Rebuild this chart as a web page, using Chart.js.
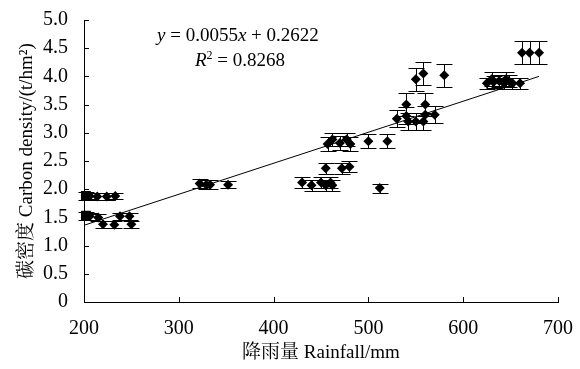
<!DOCTYPE html>
<html>
<head>
<meta charset="utf-8">
<script src="https://cdn.jsdelivr.net/npm/chart.js@4.4.1/dist/chart.umd.min.js"></script>
<style>
  html, body { margin: 0; padding: 0; background: #fff; }
  #wrap { position: relative; width: 580px; height: 369px; }
  #eq { position: absolute; left: 0; top: 0; font-family: 'Liberation Serif', serif; font-size: 19px; color: #000; line-height: 1; white-space: nowrap; }
  #eq div { position: absolute; }
  #eq sup { font-size: 12px; vertical-align: 7px; line-height: 0; }
</style>
</head>
<body>
<div id="wrap">
  <canvas id="c" width="580" height="369"></canvas>
  <div id="eq">
    <div id="eq1" style="left:157px; top:25px;"><i>y</i> = 0.0055<i>x</i> + 0.2622</div>
    <div id="eq2" style="left:195px; top:50px;"><i>R</i><sup>2</sup> = 0.8268</div>
  </div>
</div>
<script>
// ---- data ----
const squareX   = [202, 202];
const squareY   = [1.88, 1.53];
const squareErr = [0.07, 0.07];

const rainfall = [206, 214, 224, 233,
                  206, 215, 238, 248,
                  220, 232, 250,
                  322, 329, 333, 352,
                  430, 440, 450, 455, 460, 462,
                  455, 472, 480,
                  457, 462, 470, 477, 481,
                  500, 520, 512,
                  530, 540, 540, 542, 550, 558, 560, 560, 570,
                  550, 558, 580,
                  625, 632, 638, 643, 648, 652, 660,
                  630, 645,
                  662, 670, 680];
const carbon   = [1.88, 1.87, 1.87, 1.88,
                  1.52, 1.50, 1.52, 1.52,
                  1.38, 1.37, 1.38,
                  2.10, 2.08, 2.08, 2.08,
                  2.12, 2.07, 2.12, 2.07, 2.12, 2.07,
                  2.37, 2.37, 2.40,
                  2.80, 2.88, 2.82, 2.88, 2.80,
                  2.85, 2.85, 2.02,
                  3.25, 3.50, 3.30, 3.20, 3.20, 3.20, 3.50, 3.32, 3.32,
                  3.95, 4.05, 4.02,
                  3.88, 3.90, 3.92, 3.88, 3.92, 3.88, 3.88,
                  3.95, 3.95,
                  4.42, 4.42, 4.42];
const carbonErr = [0.06, 0.06, 0.06, 0.06,
                   0.06, 0.06, 0.06, 0.06,
                   0.06, 0.06, 0.06,
                   0.08, 0.08, 0.08, 0.06,
                   0.10, 0.10, 0.10, 0.10, 0.10, 0.10,
                   0.10, 0.10, 0.10,
                   0.12, 0.12, 0.12, 0.12, 0.12,
                   0.12, 0.12, 0.08,
                   0.15, 0.20, 0.15, 0.15, 0.15, 0.15, 0.20, 0.15, 0.15,
                   0.20, 0.20, 0.20,
                   0.10, 0.10, 0.10, 0.10, 0.10, 0.10, 0.10,
                   0.12, 0.12,
                   0.20, 0.20, 0.20];

const trendX = [200, 680];
const trendY = [1.36, 4.00];

const xTicks = [200, 300, 400, 500, 600, 700];
const yTicks = [0, 0.5, 1.0, 1.5, 2.0, 2.5, 3.0, 3.5, 4.0, 4.5, 5.0];

const FONT = "'Liberation Serif', 'Noto Serif CJK SC', 'Noto Sans CJK SC', serif";

function pts(xs, ys) { return xs.map((x, i) => ({ x: x, y: ys[i] })); }

// error bars + inside tick marks, drawn through the chart's own scales
const errPlugin = {
  id: 'errbars',
  beforeDatasetsDraw(chart) {
    const ctx = chart.ctx, xs = chart.scales.x, ys = chart.scales.y;
    ctx.save();
    ctx.strokeStyle = '#000';
    ctx.lineWidth = 1;
    chart.data.datasets.forEach(ds => {
      if (!ds.errs) return;
      ds.data.forEach((p, i) => {
        const e = ds.errs[i];
        const px = Math.round(xs.getPixelForValue(p.x)) + 0.5;
        const y1 = Math.round(ys.getPixelForValue(p.y + e)) + 0.5;
        const y2 = Math.round(ys.getPixelForValue(p.y - e)) + 0.5;
        ctx.beginPath();
        ctx.moveTo(px, y1); ctx.lineTo(px, y2);
        ctx.moveTo(px - 8, y1); ctx.lineTo(px + 8, y1);
        ctx.moveTo(px - 8, y2); ctx.lineTo(px + 8, y2);
        ctx.stroke();
      });
    });
    ctx.restore();
  },
  afterDraw(chart) {
    const ctx = chart.ctx, xs = chart.scales.x, ys = chart.scales.y;
    const a = chart.chartArea;
    ctx.save();
    ctx.strokeStyle = '#000';
    ctx.lineWidth = 1;
    ctx.beginPath();
    xTicks.forEach(v => {
      const px = Math.round(xs.getPixelForValue(v)) + 0.5;
      ctx.moveTo(px, a.bottom); ctx.lineTo(px, a.bottom - 5);
    });
    yTicks.forEach(v => {
      const py = Math.round(ys.getPixelForValue(v)) + 0.5;
      ctx.moveTo(a.left, py); ctx.lineTo(a.left + 5, py);
    });
    ctx.stroke();
    ctx.restore();
  }
};

new Chart(document.getElementById('c'), {
  type: 'scatter',
  data: {
    datasets: [
      {
        type: 'line',
        data: pts(trendX, trendY),
        borderColor: '#000',
        borderWidth: 1,
        pointRadius: 0,
        fill: false,
        order: 0
      },
      {
        data: pts(rainfall, carbon),
        errs: carbonErr,
        pointStyle: 'rectRot',
        pointRadius: 5,
        backgroundColor: '#000',
        borderColor: '#000',
        borderWidth: 0,
        order: 1
      },
      {
        data: pts(squareX, squareY),
        errs: squareErr,
        clip: false,
        pointStyle: 'rect',
        pointRadius: 7,
        backgroundColor: '#000',
        borderColor: '#000',
        borderWidth: 0,
        order: 2
      }
    ]
  },
  options: {
    responsive: false,
    animation: false,
    layout: { padding: { left: 0, right: 18, top: 12, bottom: 0 } },
    plugins: { legend: { display: false }, tooltip: { enabled: false } },
    scales: {
      x: {
        type: 'linear',
        min: 200, max: 700,
        afterBuildTicks: s => { s.ticks = xTicks.map(v => ({ value: v })); },
        afterFit: s => { s.height = 67; },
        grid: { display: false },
        border: { display: true, color: '#000', width: 1 },
        ticks: { color: '#000', padding: 7, maxRotation: 0, font: { family: FONT, size: 20 } },
        title: { display: true, text: '降雨量 Rainfall/mm', color: '#000', padding: { top: 0, bottom: 5 }, font: { family: FONT, size: 19 } }
      },
      y: {
        type: 'linear',
        min: 0, max: 5,
        afterBuildTicks: s => { s.ticks = yTicks.map(v => ({ value: v })); },
        afterFit: s => { s.width = 84; },
        grid: { display: false },
        border: { display: true, color: '#000', width: 1 },
        ticks: {
          color: '#000', padding: 8, font: { family: FONT, size: 20 },
          callback: v => v === 0 ? '0' : v.toFixed(1)
        },
        title: { display: true, text: '碳密度 Carbon density/(t/hm²)', color: '#000', padding: { top: 16, bottom: 0 }, font: { family: FONT, size: 19 } }
      }
    }
  },
  plugins: [errPlugin]
});
</script>
</body>
</html>
